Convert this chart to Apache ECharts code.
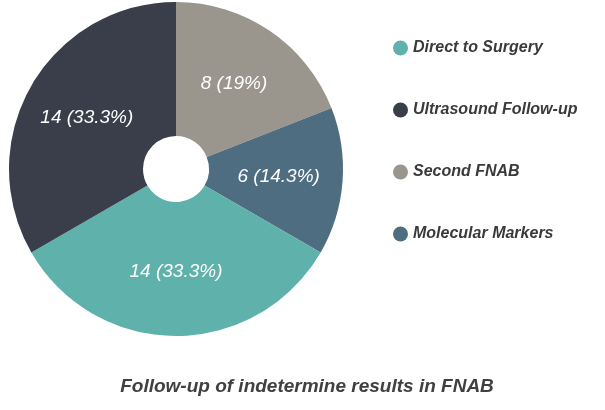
<!DOCTYPE html>
<html><head><meta charset="utf-8">
<script src="https://cdn.jsdelivr.net/npm/echarts@6/dist/echarts.min.js"></script>
<style>html,body{margin:0;padding:0;background:#fff}#c{width:605px;height:410px}</style>
</head><body><div id="c"></div>
<script>
const sliceNames = ['Second FNAB', 'Molecular Markers', 'Direct to Surgery', 'Ultrasound Follow-up'];
const sliceValues = [8, 6, 14, 14];
const sliceColors = ['#9a968e', '#4f6d80', '#5fb1ab', '#393e4a'];
const legendOrder = ['Direct to Surgery', 'Ultrasound Follow-up', 'Second FNAB', 'Molecular Markers'];
const titleText = 'Follow-up of indetermine results in FNAB';
const total = sliceValues.reduce((a, b) => a + b, 0);

const chart = echarts.init(document.getElementById('c'));
chart.setOption({
  animation: false,
  title: {
    text: titleText, left: 302, top: 372, textAlign: 'center',
    textStyle: {fontFamily: 'Liberation Sans', fontStyle: 'italic', fontWeight: 'bold', fontSize: 19, color: '#404040'}
  },
  legend: {
    data: legendOrder, orient: 'vertical', left: 388, top: 35, itemGap: 46,
    icon: 'circle', itemWidth: 15, itemHeight: 15,
    textStyle: {fontFamily: 'Liberation Sans', fontStyle: 'italic', fontWeight: 'bold', fontSize: 16, color: '#3a3a3a'}
  },
  series: [{
    type: 'pie', center: [176, 169], radius: [33, 167], startAngle: 90, clockwise: true,
    data: sliceNames.map((n, i) => ({name: n, value: sliceValues[i], itemStyle: {color: sliceColors[i]}})),
    label: {
      position: 'inside', color: '#fff', fontFamily: 'Liberation Sans', fontStyle: 'italic', fontSize: 19,
      formatter: p => p.value + ' (' + parseFloat((p.value / total * 100).toFixed(1)) + '%)'
    },
    labelLine: {show: false},
    emphasis: {disabled: true}
  }]
});
</script></body></html>
